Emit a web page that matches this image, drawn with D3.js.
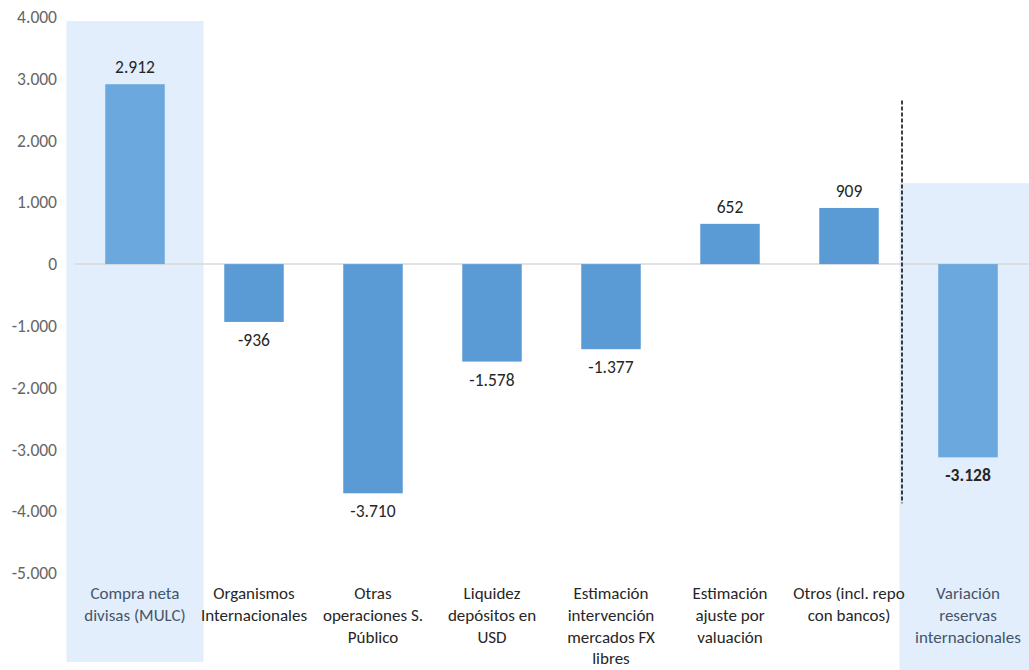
<!DOCTYPE html>
<html>
<head>
<meta charset="utf-8">
<script src="https://cdn.jsdelivr.net/npm/d3@7"></script>
<style>
  html, body { margin: 0; padding: 0; background: #fff; }
  svg { display: block; font-family: Carlito, Calibri, Lato, "Open Sans", sans-serif; }
</style>
</head>
<body>
<svg id="chart" width="1029" height="670"></svg>
<script>
// Variación de reservas internacionales: contribuciones por concepto (USD millones)
const categories = [
  ["Compra neta", "divisas (MULC)"],
  ["Organismos", "Internacionales"],
  ["Otras", "operaciones S.", "Público"],
  ["Liquidez", "depósitos en", "USD"],
  ["Estimación", "intervención", "mercados FX", "libres"],
  ["Estimación", "ajuste por", "valuación"],
  ["Otros (incl. repo", "con bancos)"],
  ["Variación", "reservas", "internacionales"]
];
const values = [2912, -936, -3710, -1578, -1377, 652, 909, -3128];
const valueLabels = ["2.912", "-936", "-3.710", "-1.578", "-1.377", "652", "909", "-3.128"];
const yTicks = [4000, 3000, 2000, 1000, 0, -1000, -2000, -3000, -4000, -5000];
const yTickLabels = ["4.000", "3.000", "2.000", "1.000", "0", "-1.000", "-2.000", "-3.000", "-4.000", "-5.000"];
const highlighted = [0, 7];

const svg = d3.select("#chart");
const W = 1029, H = 670;

const x = d3.scaleBand()
  .domain(d3.range(categories.length))
  .range([75.5, 1027.5])
  .paddingInner(0.5)
  .paddingOuter(0.25);

const y = d3.scaleLinear().domain([-5000, 4000]).range([573, 17]);

const center = i => x(i) + x.bandwidth() / 2;

// Shaded backgrounds behind the first and last categories
svg.append("rect")
  .attr("x", center(0) - 68.5).attr("y", y(3935))
  .attr("width", 137).attr("height", 662 - y(3935))
  .attr("fill", "#e2eefb");
svg.append("rect")
  .attr("x", center(7) - 68.5).attr("y", y(1310))
  .attr("width", W - (center(7) - 68.5)).attr("height", H - y(1310))
  .attr("fill", "#e2eefb");

// Y axis labels (no axis line)
const yAxis = d3.axisLeft(y).tickValues(yTicks)
  .tickFormat((d, i) => yTickLabels[i]).tickSize(0).tickPadding(0);
const gy = svg.append("g").attr("transform", "translate(57,0)").call(yAxis);
gy.select(".domain").remove();
gy.selectAll("text")
  .attr("fill", "#666666").attr("font-size", 17.5)
  .style("font-family", "Carlito, Calibri, Lato, 'Open Sans', sans-serif");

// Zero line
svg.append("line")
  .attr("x1", 75).attr("x2", W)
  .attr("y1", y(0)).attr("y2", y(0))
  .attr("stroke", "#d9d9d9").attr("stroke-width", 1.5);

// Bars
svg.selectAll("rect.bar").data(values).join("rect")
  .attr("class", "bar")
  .attr("x", (d, i) => x(i))
  .attr("width", x.bandwidth())
  .attr("y", d => y(Math.max(0, d)))
  .attr("height", d => Math.abs(y(d) - y(0)))
  .attr("fill", (d, i) => highlighted.includes(i) ? "#6aa8de" : "#5b9bd5");

// Value labels
svg.selectAll("text.val").data(values).join("text")
  .attr("class", "val")
  .attr("x", (d, i) => center(i))
  .attr("y", d => d >= 0 ? y(d) - 11 : y(d) + 24)
  .attr("text-anchor", "middle")
  .attr("font-size", 17.5)
  .attr("font-weight", (d, i) => i === 7 ? "bold" : "normal")
  .attr("fill", "#262626")
  .text((d, i) => valueLabels[i]);

// Vertical dashed separator
svg.append("line")
  .attr("x1", center(7) - 66).attr("x2", center(7) - 66)
  .attr("y1", y(2650)).attr("y2", y(-3870))
  .attr("stroke", "#000").attr("stroke-width", 1.5)
  .attr("stroke-dasharray", "4,2");

// Category labels
const cat = svg.selectAll("text.cat").data(categories).join("text")
  .attr("class", "cat")
  .attr("text-anchor", "middle")
  .attr("font-size", 17)
  .attr("fill", (d, i) => highlighted.includes(i) ? "#44546a" : "#262626");
cat.each(function(lines, i) {
  d3.select(this).selectAll("tspan").data(lines).join("tspan")
    .attr("x", center(i))
    .attr("y", (l, j) => 599 + j * 21.8)
    .text(l => l);
});
</script>
</body>
</html>
